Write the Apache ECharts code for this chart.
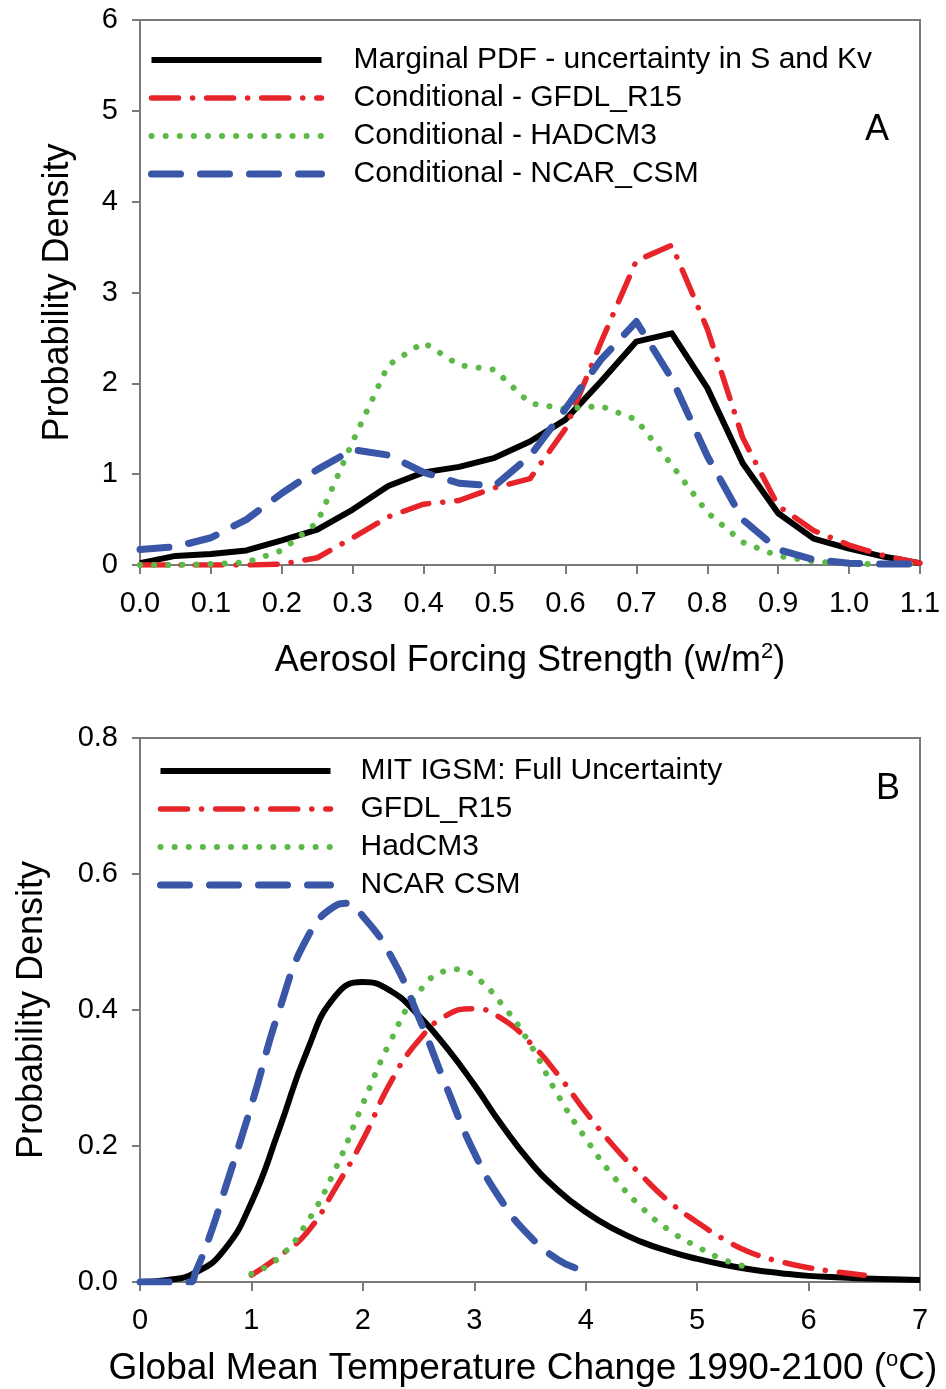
<!DOCTYPE html>
<html><head><meta charset="utf-8">
<script src="https://cdn.jsdelivr.net/npm/echarts@6/dist/echarts.min.js"></script>
<style>html,body{margin:0;padding:0;background:#fff}#c{width:946px;height:1389px}</style>
</head><body><div id="c"></div>
<script>
// ---------- Panel A: Aerosol forcing strength ----------
const xA = [0,0.05,0.1,0.15,0.2,0.25,0.3,0.35,0.4,0.45,0.5,0.55,0.6,0.65,0.7,0.75,0.8,0.85,0.9,0.95,1.0,1.05,1.1];
const marginalA = [0.02,0.10,0.12,0.16,0.27,0.39,0.61,0.87,1.02,1.08,1.18,1.36,1.60,2.02,2.46,2.55,1.95,1.12,0.57,0.29,0.18,0.09,0.02];
const gfdlA     = [0,0,0,0,0.01,0.08,0.30,0.53,0.67,0.71,0.85,0.95,1.50,2.45,3.35,3.52,2.60,1.40,0.65,0.38,0.22,0.10,0.02];
const hadcm3A   = [0,0,0.01,0.03,0.16,0.47,1.36,2.20,2.45,2.20,2.15,1.78,1.72,1.75,1.60,1.10,0.58,0.25,0.10,0.04,0.01,0.01,0.01];
const ncarA     = [0.17,0.20,0.30,0.50,0.79,1.05,1.27,1.21,1.02,0.90,0.87,1.20,1.72,2.26,2.68,2.05,1.20,0.50,0.17,0.06,0.02,0.01,0.01];
const namesA = ['Marginal PDF - uncertainty in S and Kv','Conditional - GFDL_R15','Conditional - HADCM3','Conditional - NCAR_CSM'];

// ---------- Panel B: Global mean temperature change ----------
const xB_full = [0,0.25,0.5,0.75,1,1.25,1.5,1.75,2,2.25,2.5,2.75,3,3.25,3.5,3.75,4,4.25,4.5,4.75,5,5.25,5.5,5.75,6,6.25,6.5,6.75,7];
const fullB   = [0,0.003,0.014,0.046,0.117,0.225,0.340,0.420,0.441,0.428,0.392,0.345,0.290,0.230,0.177,0.135,0.103,0.078,0.059,0.045,0.034,0.025,0.018,0.013,0.009,0.007,0.005,0.004,0.003];
const xB_gfdl = [1,1.25,1.5,1.75,2,2.25,2.5,2.75,3,3.25,3.5,3.75,4,4.25,4.5,4.75,5,5.25,5.5,5.75,6,6.25,6.5];
const gfdlB   = [0.01,0.038,0.073,0.137,0.209,0.294,0.355,0.392,0.402,0.387,0.352,0.305,0.250,0.200,0.157,0.118,0.088,0.062,0.042,0.030,0.021,0.015,0.010];
const xB_had  = [1,1.25,1.5,1.75,2,2.25,2.5,2.75,2.85,3,3.25,3.5,3.75,4,4.25,4.5,4.75,5,5.25,5.45];
const hadB    = [0.012,0.036,0.088,0.165,0.262,0.355,0.426,0.458,0.460,0.450,0.408,0.350,0.275,0.211,0.155,0.110,0.076,0.052,0.032,0.022];
const xB_ncar = [0,0.25,0.45,0.5,0.625,0.75,1,1.25,1.5,1.75,1.85,2,2.25,2.5,2.75,3,3.25,3.5,3.75,3.92];
const ncarB   = [0,0,0,0.015,0.067,0.13,0.26,0.40,0.506,0.553,0.557,0.538,0.48,0.39,0.287,0.19,0.118,0.067,0.033,0.02];
const namesB = ['MIT IGSM: Full Uncertainty','GFDL_R15','HadCM3','NCAR CSM'];

const ticksA_x = {min:0,max:1.1,interval:0.1};
const ticksA_y = {min:0,max:6,interval:1};
const ticksB_x = {min:0,max:7,interval:1};
const ticksB_y = {min:0,max:0.8,interval:0.2};

const pairs = (xs, ys) => xs.map((x,i)=>[x, ys[i]]);

const FONT = '"Liberation Sans", Arial, sans-serif';
const C = {black:'#000000', red:'#e8242b', green:'#5cb947', blue:'#3a57a7'};
const styles = [
  {color:C.black, width:6, type:'solid', cap:'butt'},
  {color:C.red, width:5.5, type:[27,14,0.1,14], cap:'round'},
  {color:C.green, width:6, type:[0.1,14], cap:'round'},
  {color:C.blue, width:7, type:[29,20], cap:'round'}
];

const axisCommon = {
  axisLine:{show:true, onZero:false, lineStyle:{color:'#7a7a7a', width:2}},
  axisTick:{show:true, length:9, lineStyle:{color:'#7a7a7a', width:2}},
  splitLine:{show:false},
  axisLabel:{color:'#000', fontFamily:FONT, fontSize:29, margin:24},
  nameTextStyle:{color:'#000', fontFamily:FONT, fontSize:36}
};

function mkSeries(names, datas, gi, smooth){
  return names.map((n,i)=>({
    name:n, type:'line', xAxisIndex:gi, yAxisIndex:gi,
    data:datas[i], symbol:'none', showSymbol:false,
    smooth: smooth ? 0.5 : false,
    lineStyle:{color:styles[i].color, width:styles[i].width, type:styles[i].type, cap:styles[i].cap, join:'round'},
    itemStyle:{color:styles[i].color},
    z: 2+i, silent:true, animation:false, clip:true
  }));
}
function mkLegend(names, left, top, textPad){
  return {
    orient:'vertical', left:left, top:top, padding:0, itemWidth:170, itemHeight:14, itemGap:8,
    selectedMode:false,
    textStyle:{color:'#000', fontFamily:FONT, fontSize:30, lineHeight:30, padding:[0,0,0,textPad]},
    data:names.map((n,i)=>({name:n,
      itemStyle:{opacity:0},
      lineStyle:{color:styles[i].color, width:styles[i].width, type:styles[i].type, cap:styles[i].cap}}))
  };
}

const chart = echarts.init(document.getElementById('c'), null, {renderer:'canvas'});
chart.setOption({
  backgroundColor:'#fff',
  animation:false,
  grid:[
    {left:140, top:20, width:780, height:545, show:true, borderColor:'#7a7a7a', borderWidth:2, containLabel:false},
    {left:140, top:738, width:780, height:544, show:true, borderColor:'#7a7a7a', borderWidth:2, containLabel:false}
  ],
  xAxis:[
    Object.assign({}, axisCommon, {type:'value', gridIndex:0, ...ticksA_x,
      axisLabel:Object.assign({}, axisCommon.axisLabel, {formatter:v=>v.toFixed(1)}),
      name:'Aerosol Forcing Strength (w/m{sup|2})', nameLocation:'middle', nameGap:76,
      nameTextStyle:Object.assign({}, axisCommon.nameTextStyle, {rich:{sup:{fontSize:22, fontFamily:FONT, color:'#000', padding:[0,0,18,0]}}})}),
    Object.assign({}, axisCommon, {type:'value', gridIndex:1, ...ticksB_x,
      axisLabel:Object.assign({}, axisCommon.axisLabel, {formatter:v=>String(v)}),
      name:'Global Mean Temperature Change 1990-2100 ({sup|o}C)', nameLocation:'middle', nameGap:67,
      nameTextStyle:Object.assign({}, axisCommon.nameTextStyle, {fontSize:37, padding:[0,14,0,0], rich:{sup:{fontSize:22, fontFamily:FONT, color:'#000', padding:[0,0,18,0]}}})})
  ],
  yAxis:[
    Object.assign({}, axisCommon, {type:'value', gridIndex:0, ...ticksA_y,
      axisTick:{show:true, length:8, lineStyle:{color:'#7a7a7a', width:2}},
      axisLabel:Object.assign({}, axisCommon.axisLabel, {margin:22, formatter:v=>String(v)}),
      name:'Probability Density', nameLocation:'middle', nameGap:64}),
    Object.assign({}, axisCommon, {type:'value', gridIndex:1, ...ticksB_y,
      axisTick:{show:true, length:8, lineStyle:{color:'#7a7a7a', width:2}},
      axisLabel:Object.assign({}, axisCommon.axisLabel, {margin:22, formatter:v=>v.toFixed(1)}),
      name:'Probability Density', nameLocation:'middle', nameGap:90})
  ],
  legend:[mkLegend(namesA, 148, 45, 27), mkLegend(namesB, 157, 756, 25)],
  graphic:[
    {type:'text', left:865, top:112, style:{text:'A', font:'36px '+FONT, fill:'#000'}},
    {type:'text', left:876, top:771, style:{text:'B', font:'36px '+FONT, fill:'#000'}}
  ],
  series:[
    ...mkSeries(namesA, [pairs(xA,marginalA), pairs(xA,gfdlA), pairs(xA,hadcm3A), pairs(xA,ncarA)], 0, false),
    ...mkSeries(namesB, [pairs(xB_full,fullB), pairs(xB_gfdl,gfdlB), pairs(xB_had,hadB), pairs(xB_ncar,ncarB)], 1, true)
  ]
});
</script>
</body></html>
